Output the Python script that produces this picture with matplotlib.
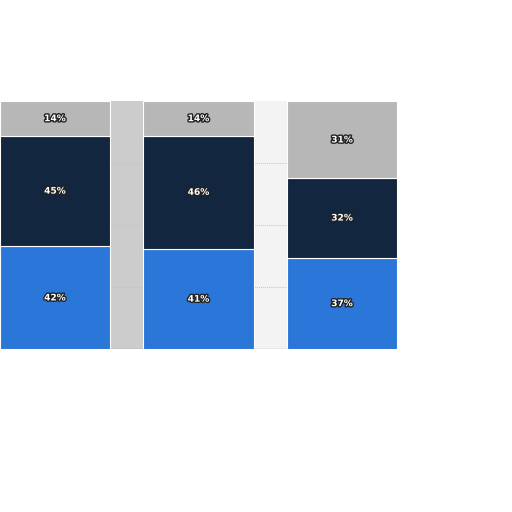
import matplotlib
matplotlib.use("Agg")
import matplotlib.pyplot as plt
import matplotlib.patheffects as pe
import numpy as np

categories = ["A", "B", "C"]
blue_vals = [42, 41, 37]
navy_vals = [45, 46, 32]
gray_vals = [14, 14, 31]

series = [blue_vals, navy_vals, gray_vals]
colors = ["#2b76d9", "#12263f", "#b7b7b7"]

fig = plt.figure(figsize=(5.12, 5.12), dpi=100)
ax = fig.add_axes([0.0, 0.3174, 398 / 512, 0.8018 - 0.3174])

x = np.arange(len(categories))
width = 0.767
totals = np.sum(np.array(series), axis=0)

# background shading in gaps
ax.axvspan(0 + width / 2, 1 - width / 2, color="#cccccc", zorder=0, lw=0)
ax.axvspan(1 + width / 2, 2 - width / 2, color="#f3f3f3", zorder=0, lw=0)

for g in [25, 50, 75]:
    ax.axhline(g, color="#c4c4c4", lw=0.7, ls=(0, (1, 1)), zorder=0.5)

bottom = np.zeros(len(categories))
for vals, c in zip(series, colors):
    frac = np.array(vals) / totals * 100
    ax.bar(x, frac, width, bottom=bottom, color=c, edgecolor="white",
           linewidth=0.8, zorder=2)
    for xi, b, h, v in zip(x, bottom, frac, vals):
        ax.text(xi, b + h / 2, f"{v}%", ha="center", va="center",
                color="white", fontsize=6.5, fontweight="bold", zorder=3,
                path_effects=[pe.withStroke(linewidth=2, foreground="#222222")])
    bottom += frac

ax.axhline(0, color="#3a3a3a", lw=0.8, zorder=4)

ax.set_xlim(-0.383, 2.39)
ax.set_ylim(0, 100)
ax.axis("off")

fig.savefig("out.png", dpi=100)
